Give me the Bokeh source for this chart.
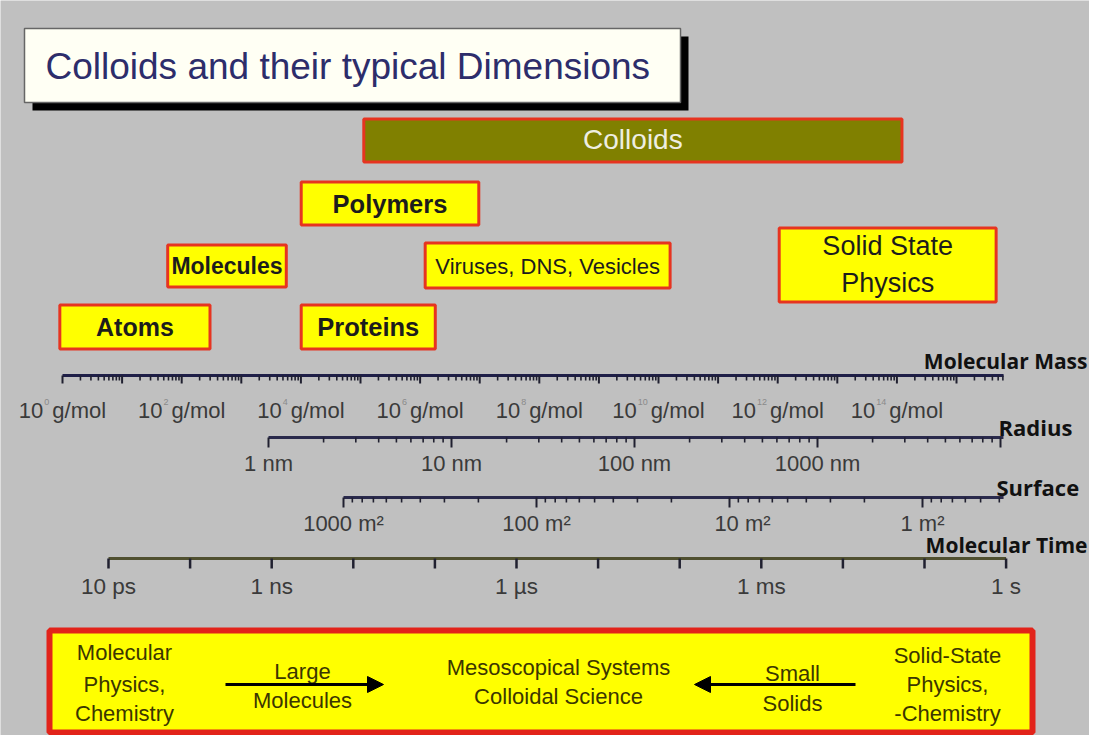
import numpy as np
from bokeh.plotting import figure
from bokeh.models import Range1d, Arrow, NormalHead
from bokeh.core.properties import value
from bokeh.embed import file_html
from bokeh.resources import INLINE

# ---------------- data ----------------
# Molecular mass scale (decades of g/mol)
mass_decades = list(range(0, 16))
mass_max_log = 15.79
mass_label_exponents = [0, 2, 4, 6, 8, 10, 12, 14]
mass_unit = "g/mol"

# Radius scale (nm)
radius_decades_nm = [1, 10, 100, 1000, 10000]
radius_max_nm = 10 ** 4.016
radius_label_values = [1, 10, 100, 1000]
radius_labels = ["1 nm", "10 nm", "100 nm", "1000 nm"]

# Specific surface scale (m²), decreasing to the right
surface_decades_m2 = [1000, 100, 10, 1]
surface_min_m2 = 10 ** -0.42
surface_labels = ["1000 m²", "100 m²", "10 m²", "1 m²"]

# Molecular time scale (s)
time_decades_s = [1e-11, 1e-10, 1e-9, 1e-8, 1e-7, 1e-6, 1e-5, 1e-4, 1e-3, 1e-2, 1e-1, 1.0]
time_label_values = [1e-11, 1e-9, 1e-6, 1e-3, 1.0]
time_labels = ["10 ps", "1 ns", "1 µs", "1 ms", "1 s"]

# Object classes: extent in log10(molecular mass / g mol⁻¹)
class_names = ["Colloids", "Polymers", "Molecules", "Viruses, DNS, Vesicles",
               "Solid State Physics", "Atoms", "Proteins"]
class_log_mass_from = [5.03, 3.98, 1.74, 6.06, 12.0, -0.07, 3.98]
class_log_mass_to = [14.11, 7.01, 3.78, 10.22, 15.69, 2.50, 6.28]

# Fields of science (bottom band)
fields_left = ["Molecular", "Physics,", "Chemistry"]
fields_large = ["Large", "Molecules"]
fields_middle = ["Mesoscopical Systems", "Colloidal Science"]
fields_small = ["Small", "Solids"]
fields_right = ["Solid-State", "Physics,", "-Chemistry"]

# ---------------- layout / style ----------------
W, H = 1089, 735
X0, PPD = 62.0, 59.6           # px of 10^0 g/mol, px per mass decade
RAD_X0, RAD_PPD = 268.0, 183.0
SURF_X0, SURF_PPD = 343.0, 193.0
TIME_X0, TIME_PPD = 108.0, 81.6
SURF_LABEL_DX = [0, 0, 13, 0]   # label nudges (px)

def to_x(px):
    return (np.asarray(px, dtype=float) - X0) / PPD

def rad_x(r):
    return to_x(RAD_X0 + RAD_PPD * np.log10(r))

def surf_x(s):
    return to_x(SURF_X0 + SURF_PPD * (np.log10(surface_decades_m2[0]) - np.log10(s)))

def time_x(t):
    return to_x(TIME_X0 + TIME_PPD * (np.log10(t) - np.log10(time_decades_s[0])))

BG = "#C0C0C0"
YELLOW = "#FFFF00"
RED = "#E63420"
OLIVE = "#808000"
ARIAL = value("Liberation Sans")
TITLEF = value("Open Sans")

p = figure(width=W, height=H, output_backend="svg", toolbar_location=None,
           x_range=Range1d(to_x(0), to_x(W)), y_range=Range1d(H, 0),
           x_axis_location=None, y_axis_location=None, min_border=0,
           background_fill_color=BG, border_fill_color=BG, outline_line_color=None)
p.grid.visible = False

def txt(xs, ys, labels, size, color="#1c1c1c", bold=False, align="center", font=ARIAL):
    p.text(x=list(xs), y=list(ys), text=list(labels), text_font=font, text_font_size=value(size),
           text_font_style="bold" if bold else "normal", text_color=color,
           text_align=align, text_baseline="middle")

# ---- title box ----
p.quad(left=[to_x(32)], right=[to_x(688)], top=[36], bottom=[110], fill_color="black", line_color=None)
p.quad(left=[to_x(24)], right=[to_x(680)], top=[28], bottom=[102], fill_color="#FFFFF4",
       line_color="#666666", line_width=1.5)
txt([to_x(45)], [66], ["Colloids and their typical Dimensions"], "37px", color="#2d2d6b", align="left")

# ---- class boxes ----
rows = {  # (top px, bottom px, font size, bold, fill, text color, text centre rows)
    "Colloids": (117, 163, "28px", False, OLIVE, "#EEEEE2", [139]),
    "Polymers": (180, 226, "25.5px", True, YELLOW, "#1c1c1c", [203]),
    "Molecules": (243, 288, "23px", True, YELLOW, "#1c1c1c", [265]),
    "Viruses, DNS, Vesicles": (241, 289, "22px", False, YELLOW, "#1c1c1c", [266]),
    "Solid State Physics": (226, 303, "27px", False, YELLOW, "#1c1c1c", [245, 282]),
    "Atoms": (303, 350, "25px", True, YELLOW, "#1c1c1c", [326]),
    "Proteins": (303, 350, "25.5px", True, YELLOW, "#1c1c1c", [326]),
}
for name, a, b in zip(class_names, class_log_mass_from, class_log_mass_to):
    top, bot, fs, bold, fill, tc, ys = rows[name]
    p.quad(left=[a + 1.5 / PPD], right=[b - 1.5 / PPD], top=[top + 1.5], bottom=[bot - 1.5],
           fill_color=fill, line_color=RED, line_width=3)
    lines = ["Solid State", "Physics"] if name == "Solid State Physics" else [name]
    xc = (a + b) / 2
    txt([xc] * len(lines), ys, lines, fs, color=tc, bold=bold)

# ---- scales ----
def draw_scale(y, x_start, x_end, majors, minors, color, major_len, minor_len, tick_w=2):
    p.segment(x0=[x_start], y0=[y], x1=[x_end], y1=[y], line_color=color, line_width=3)
    majors = list(majors)
    p.segment(x0=majors, y0=[y] * len(majors), x1=majors, y1=[y + major_len] * len(majors),
              line_color="#202030", line_width=tick_w)
    minors = list(minors)
    if len(minors):
        p.segment(x0=minors, y0=[y] * len(minors), x1=minors, y1=[y + minor_len] * len(minors),
                  line_color="#202030", line_width=1.6)

LBL = "#3a3a3a"
LBL_FS = 22.0

def scale_title(x, y, label, align, size):
    txt([x], [y], [label], size, color="#111111", bold=True, align=align, font=TITLEF)

mult = np.arange(2, 10)
# molecular mass
mm_major = np.array(mass_decades, dtype=float)
mm_minor = np.array([d + np.log10(m) for d in mass_decades for m in mult])
mm_minor = mm_minor[mm_minor <= mass_max_log]
draw_scale(375, 0.0, mass_max_log, mm_major[mm_major <= mass_max_log], mm_minor, "#1f1f48", 8, 5)
# labels "10^n g/mol" composed of base, small exponent and unit
w10 = 2 * 0.556 * LBL_FS
wunit = 2.445 * LBL_FS
lx_base, lx_exp, lx_unit = [], [], []
for e in mass_label_exponents:
    gap = 9 if e < 10 else 14
    total = w10 + gap + wunit
    left = X0 + e * PPD - total / 2
    lx_base.append(to_x(left))
    lx_exp.append(to_x(left + w10 + 1))
    lx_unit.append(to_x(left + w10 + gap))
n = len(mass_label_exponents)
txt(lx_base, [410] * n, ["10"] * n, "22px", color=LBL, align="left")
txt(lx_exp, [401] * n, [str(e) for e in mass_label_exponents], "9px", color="#8a8a8a", align="left")
txt(lx_unit, [410] * n, [mass_unit] * n, "22px", color=LBL, align="left")
scale_title(to_x(1087), 360, "Molecular Mass", "right", "21px")

# radius
r_major = np.array(radius_decades_nm, dtype=float)
r_minor = np.array([d * m for d in radius_decades_nm for m in mult])
r_minor = r_minor[r_minor <= radius_max_nm]
r_major = r_major[r_major <= radius_max_nm]
draw_scale(437, rad_x(radius_decades_nm[0]), rad_x(radius_max_nm), rad_x(r_major), rad_x(r_minor),
           "#2a2a4c", 10, 5)
txt(rad_x(radius_label_values), [463] * len(radius_labels), radius_labels, "22px", color=LBL)
scale_title(to_x(998), 426, "Radius", "left", "22px")

# surface
s_major = np.array(surface_decades_m2, dtype=float)
s_minor = np.array([d / 10 * m for d in surface_decades_m2 for m in mult])
s_minor = s_minor[s_minor >= surface_min_m2]
draw_scale(497, surf_x(surface_decades_m2[0]), surf_x(surface_min_m2), surf_x(s_major), surf_x(s_minor),
           "#2a2a4c", 10, 5)
s_lab_x = surf_x(surface_decades_m2) + np.array(SURF_LABEL_DX) / PPD
txt(s_lab_x, [523] * len(surface_labels), surface_labels, "22px", color=LBL)
scale_title(to_x(996), 486, "Surface", "left", "22px")

# molecular time
draw_scale(558, time_x(time_decades_s[0]), time_x(time_decades_s[-1]), time_x(time_decades_s), [],
           "#505030", 10, 0, tick_w=2.5)
txt(time_x(time_label_values), [586] * len(time_labels), time_labels, "22.5px", color=LBL)
scale_title(to_x(1087), 544, "Molecular Time", "right", "21px")

# ---- bottom band ----
p.quad(left=[to_x(49)], right=[to_x(1032)], top=[630], bottom=[732], fill_color=YELLOW,
       line_color="#E2231A", line_width=6)
TXT = "#3b3600"
def band_text(xc, ys, lines):
    txt([to_x(xc)] * len(lines), ys, lines, "22px", color=TXT)

band_text(124, [652, 684, 713], fields_left)
band_text(302, [671, 700], fields_large)
band_text(558, [667, 696], fields_middle)
band_text(792, [673, 703], fields_small)
band_text(947, [655, 684, 713], fields_right)

p.add_layout(Arrow(end=NormalHead(size=16, fill_color="black", line_color="black"),
                   x_start=to_x(225), y_start=684, x_end=to_x(383), y_end=684,
                   line_color="black", line_width=3))
p.add_layout(Arrow(end=NormalHead(size=16, fill_color="black", line_color="black"),
                   x_start=to_x(855), y_start=684, x_end=to_x(694), y_end=684,
                   line_color="black", line_width=3))

open("out.html", "w").write(file_html(p, INLINE))
